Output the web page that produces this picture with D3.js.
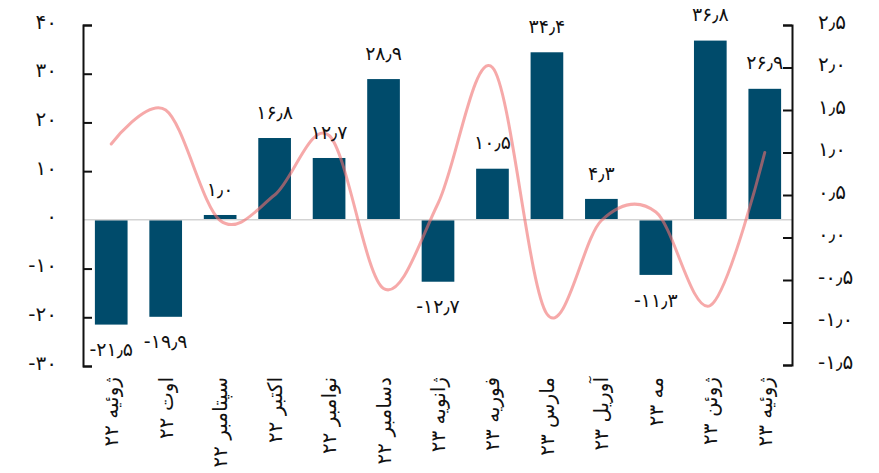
<!DOCTYPE html>
<html>
<head>
<meta charset="utf-8">
<script src="https://cdn.jsdelivr.net/npm/d3@7/dist/d3.min.js"></script>
<style>
  html, body { margin: 0; padding: 0; background: #fff; }
  svg { display: block; font-family: "DejaVu Sans", sans-serif; }
</style>
</head>
<body>
<svg id="chart" width="879" height="473"></svg>
<script>
// Months (Persian names) and year suffixes
const months = ["ژوئیه", "اوت", "سپتامبر", "اکتبر", "نوامبر", "دسامبر", "ژانویه",
                "فوریه", "مارس", "آوریل", "مه", "ژوئن", "ژوئیه"];
const years = ["۲۲", "۲۲", "۲۲", "۲۲", "۲۲", "۲۲", "۲۳", "۲۳", "۲۳", "۲۳", "۲۳", "۲۳", "۲۳"];

// Bar series (left axis) and line series (right axis)
const barValues = [-21.5, -19.9, 1.0, 16.8, 12.7, 28.9, -12.7, 10.5, 34.4, 4.3, -11.3, 36.8, 26.9];
const lineValues = [1.1, 1.5, 0.2, 0.5, 1.2, -0.6, 0.4, 2.0, -0.9, 0.2, 0.3, -0.8, 1.0];

// Axis ticks
const leftTicks = [-30, -20, -10, 0, 10, 20, 30, 40];
const rightTicks = [-1.5, -1.0, -0.5, 0.0, 0.5, 1.0, 1.5, 2.0, 2.5];

const categories = months.map((m, i) => m + " " + years[i]);

const faDigits = "۰۱۲۳۴۵۶۷۸۹";
function toFa(str) {
  return str.replace(/[0-9]/g, d => faDigits[+d]).replace(/\./g, "٫");
}

const svg = d3.select("#chart");
const plotLeft = 83, plotRight = 792, plotTop = 25, plotBottom = 366;

const x = d3.scaleBand().domain(categories).range([plotLeft + 1, plotRight]).paddingInner(0.4).paddingOuter(0.2);
const yL = d3.scaleLinear().domain([-30, 40]).range([plotBottom, plotTop]);
const yR = d3.scaleLinear().domain([-1.5, 2.5]).range([plotBottom - 1, plotTop]);

// Bars
svg.append("g").selectAll("rect")
  .data(barValues)
  .join("rect")
  .attr("x", (d, i) => x(categories[i]))
  .attr("width", x.bandwidth())
  .attr("y", d => yL(Math.max(0, d)))
  .attr("height", d => Math.abs(yL(d) - yL(0)))
  .attr("fill", "#004b6b");

// Zero line
svg.append("line")
  .attr("x1", plotLeft).attr("x2", plotRight)
  .attr("y1", yL(0)).attr("y2", yL(0))
  .attr("stroke", "#d3d3d3").attr("stroke-width", 1.5);

// Smooth line on the right axis
const line = d3.line()
  .x((d, i) => x(categories[i]) + x.bandwidth() / 2)
  .y(d => yR(d))
  .curve(d3.curveCardinal.tension(0));

svg.append("path")
  .datum(lineValues)
  .attr("d", line)
  .attr("fill", "none")
  .attr("stroke", "#f07070")
  .attr("stroke-opacity", 0.6)
  .attr("stroke-width", 3)
  .attr("stroke-linecap", "round");

// Bar value labels
svg.append("g").selectAll("text")
  .data(barValues)
  .join("text")
  .attr("x", (d, i) => x(categories[i]) + x.bandwidth() / 2)
  .attr("y", d => d >= 0 ? yL(d) - 26 : yL(d) + 25)
  .attr("dy", "0.35em")
  .attr("text-anchor", "middle")
  .attr("font-size", 19)
  .attr("fill", "#111")
  .text(d => toFa(d.toFixed(1)));

// Left axis
const axL = svg.append("g")
  .attr("transform", `translate(${plotLeft},0)`)
  .call(d3.axisLeft(yL).tickValues(leftTicks).tickSize(-9).tickPadding(26)
    .tickFormat(d => toFa(String(d))));
axL.selectAll("text").attr("font-size", 20).attr("fill", "#111").attr("dy", "0.15em");
axL.selectAll(".tick").filter(d => d === 0).select("line").remove();

// Right axis
const axR = svg.append("g")
  .attr("transform", `translate(${plotRight},0)`)
  .call(d3.axisRight(yR).tickValues(rightTicks).tickSize(-9).tickPadding(26)
    .tickFormat(d => toFa(d.toFixed(1))));
axR.selectAll("text").attr("font-size", 20).attr("fill", "#111").attr("dy", "0.15em");

[axL, axR].forEach(ax => {
  ax.select(".domain").attr("stroke", "#111").attr("stroke-width", 2);
  ax.selectAll(".tick line").attr("stroke", "#111").attr("stroke-width", 2);
  ax.attr("font-family", null);
});

// Category labels, rotated
svg.append("g").selectAll("text")
  .data(categories)
  .join("text")
  .attr("transform", d => `translate(${x(d) + x.bandwidth() / 2},377) rotate(-90)`)
  .attr("text-anchor", "end")
  .attr("dy", "0.35em")
  .attr("font-size", 20)
  .attr("fill", "#111")
  .text(d => d);
</script>
</body>
</html>
